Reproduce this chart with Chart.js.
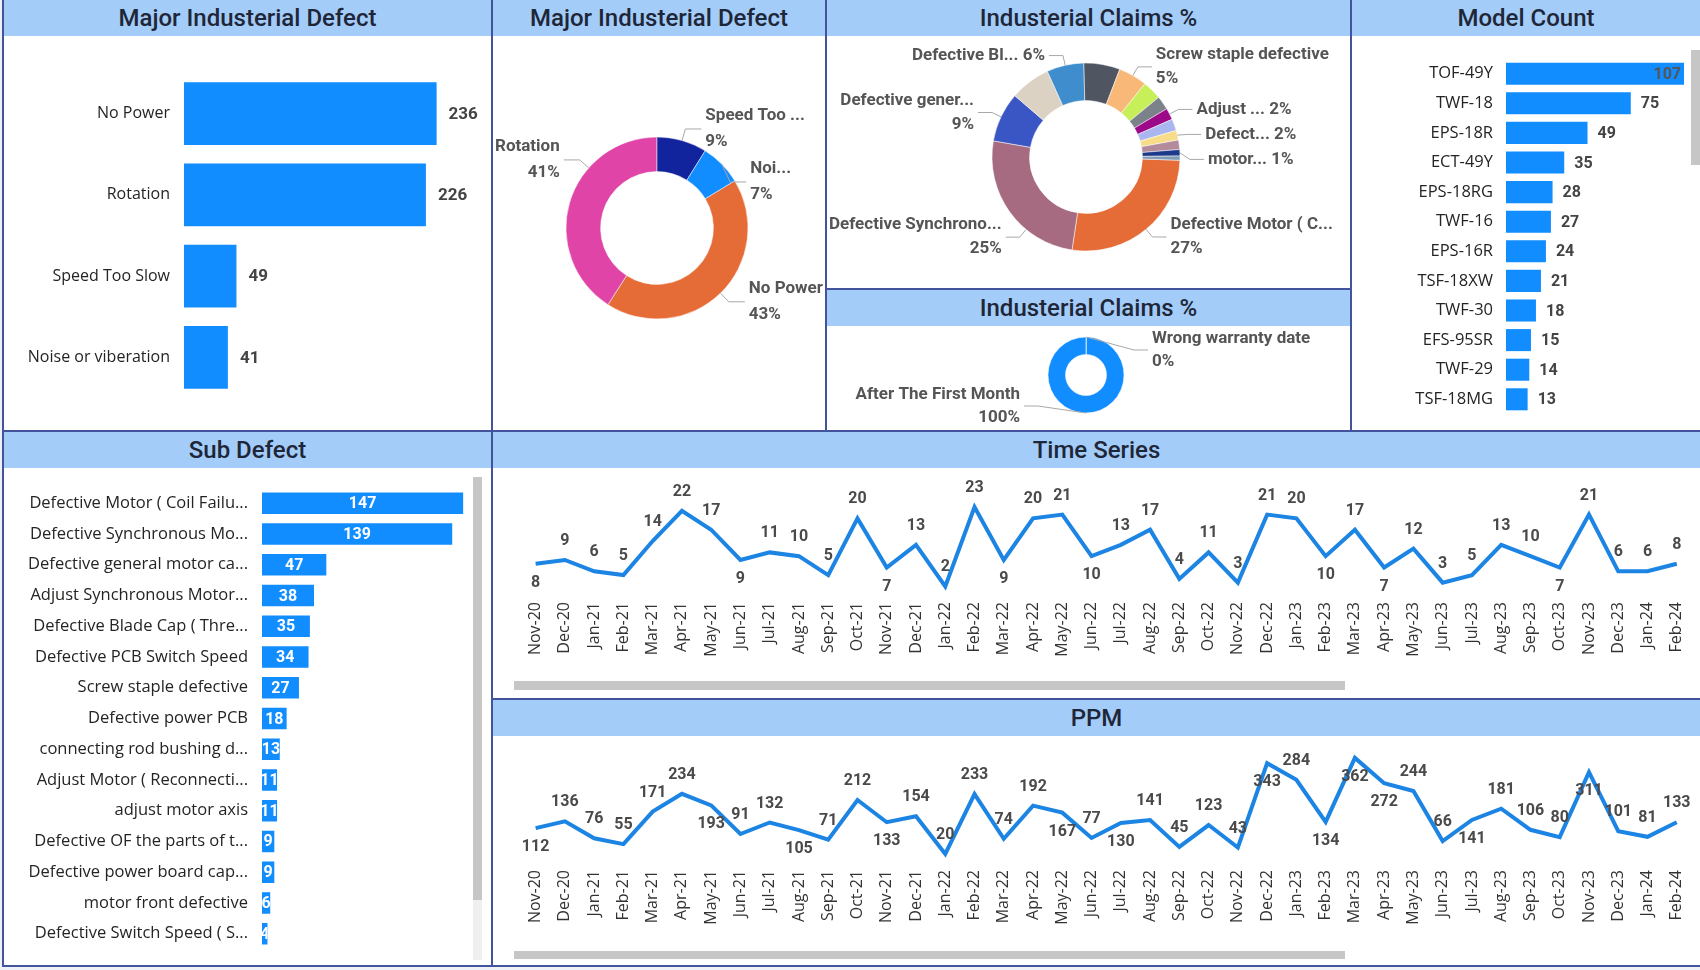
<!DOCTYPE html>
<html>
<head>
<meta charset="utf-8">
<script src="https://cdn.jsdelivr.net/npm/chart.js@4.4.0/dist/chart.umd.min.js"></script>
<style>
  body { margin: 0; width: 1700px; height: 970px; position: relative; overflow: hidden; background: #eef1f7; font-family: 'Open Sans', sans-serif; }
  .panel { position: absolute; box-sizing: border-box; border: 2px solid #44549c; background: #fff; }
  .head { position: absolute; left: 0; right: 0; top: 0; height: 36px; background: #a3cdf8;
          text-align: center; font: 500 24px Roboto, sans-serif; line-height: 37px; color: #1e2638; }
  .box { position: absolute; z-index: 2; }
  .scroll { position: absolute; z-index: 3; background: #c6c6c6; }
</style>
</head>
<body>
<div class="panel" style="left:2px;top:-2px;width:491px;height:434px"><div class="head">Major Industerial Defect</div></div>
<div class="panel" style="left:491px;top:-2px;width:336px;height:434px"><div class="head">Major Industerial Defect</div></div>
<div class="panel" style="left:825px;top:-2px;width:527px;height:292px"><div class="head">Industerial Claims %</div></div>
<div class="panel" style="left:825px;top:288px;width:527px;height:144px"><div class="head">Industerial Claims %</div></div>
<div class="panel" style="left:1350px;top:-2px;width:352px;height:434px"><div class="head">Model Count</div></div>
<div class="panel" style="left:2px;top:430px;width:491px;height:537px"><div class="head">Sub Defect</div></div>
<div class="panel" style="left:491px;top:430px;width:1211px;height:270px"><div class="head">Time Series</div></div>
<div class="panel" style="left:491px;top:698px;width:1211px;height:269px"><div class="head">PPM</div></div>

<div class="box" style="left:4px;top:36px;width:487px;height:394px"><canvas id="major"></canvas></div>
<div class="box" style="left:493px;top:36px;width:332px;height:394px"><canvas id="majorPie"></canvas></div>
<div class="box" style="left:827px;top:36px;width:523px;height:252px"><canvas id="claims"></canvas></div>
<div class="box" style="left:827px;top:326px;width:523px;height:104px"><canvas id="claimType"></canvas></div>
<div class="box" style="left:1352px;top:36px;width:348px;height:401px"><canvas id="models"></canvas></div>
<div class="box" style="left:4px;top:464px;width:487px;height:509px"><canvas id="sub"></canvas></div>
<div class="box" style="left:493px;top:467px;width:1207px;height:215px"><canvas id="series"></canvas></div>
<div class="box" style="left:493px;top:735px;width:1207px;height:220px"><canvas id="ppm"></canvas></div>

<div class="scroll" style="left:473px;top:477px;width:9px;height:483px;background:#efefef"></div>
<div class="scroll" style="left:473px;top:477px;width:9px;height:423px"></div>
<div class="scroll" style="left:1691px;top:50px;width:9px;height:115px"></div>
<div class="scroll" style="left:514px;top:681px;width:831px;height:9px"></div>
<div class="scroll" style="left:514px;top:951px;width:831px;height:8px"></div>

<script>
// data
const majorDefects = ['No Power', 'Rotation', 'Speed Too Slow', 'Noise or viberation'];
const majorCounts = [236, 226, 49, 41];
const majorShort = ['No Power', 'Rotation', 'Speed Too ...', 'Noi...'];

const subDefects = ['Defective Motor ( Coil Failu...', 'Defective Synchronous Mo...', 'Defective general motor ca...',
  'Adjust Synchronous Motor...', 'Defective Blade Cap ( Thre...', 'Defective PCB Switch Speed', 'Screw staple defective',
  'Defective power PCB', 'connecting rod bushing d...', 'Adjust Motor ( Reconnecti...', 'adjust motor axis',
  'Defective OF the parts of t...', 'Defective power board cap...', 'motor front defective', 'Defective Switch Speed ( S...'];
const subCounts = [147, 139, 47, 38, 35, 34, 27, 18, 13, 11, 11, 9, 9, 6, 4];
const subShort = ['Defective Motor ( C...', 'Defective Synchrono...', 'Defective gener...', '', 'Defective Bl...', '',
  'Screw staple defective', '', '', 'Adjust ...', '', 'Defect...', '', 'motor...', ''];

const claimTypes = ['Wrong warranty date', 'After The First Month'];
const claimTypeCounts = [1, 551];

const models = ['TOF-49Y', 'TWF-18', 'EPS-18R', 'ECT-49Y', 'EPS-18RG', 'TWF-16', 'EPS-16R', 'TSF-18XW', 'TWF-30', 'EFS-95SR', 'TWF-29', 'TSF-18MG'];
const modelCounts = [107, 75, 49, 35, 28, 27, 24, 21, 18, 15, 14, 13];

const months = ['Nov-20', 'Dec-20', 'Jan-21', 'Feb-21', 'Mar-21', 'Apr-21', 'May-21', 'Jun-21', 'Jul-21', 'Aug-21',
  'Sep-21', 'Oct-21', 'Nov-21', 'Dec-21', 'Jan-22', 'Feb-22', 'Mar-22', 'Apr-22', 'May-22', 'Jun-22',
  'Jul-22', 'Aug-22', 'Sep-22', 'Oct-22', 'Nov-22', 'Dec-22', 'Jan-23', 'Feb-23', 'Mar-23', 'Apr-23',
  'May-23', 'Jun-23', 'Jul-23', 'Aug-23', 'Sep-23', 'Oct-23', 'Nov-23', 'Dec-23', 'Jan-24', 'Feb-24'];
const monthlyClaims = [8, 9, 6, 5, 14, 22, 17, 9, 11, 10, 5, 20, 7, 13, 2, 23, 9, 20, 21, 10,
  13, 17, 4, 11, 3, 21, 20, 10, 17, 7, 12, 3, 5, 13, 10, 7, 21, 6, 6, 8];
const monthlyPpm = [112, 136, 76, 55, 171, 234, 193, 91, 132, 105, 71, 212, 133, 154, 20, 233, 74, 192, 167, 77,
  130, 141, 45, 123, 43, 343, 284, 134, 362, 272, 244, 66, 141, 181, 106, 80, 311, 101, 81, 133];

const BLUE = '#118dff';

// value labels next to / inside the bars
function barLabels(o) {
    return {
        id: 'barLabels',
        afterDatasetsDraw(chart) {
            const ctx = chart.ctx;
            const vals = chart.data.datasets[0].data;
            chart.getDatasetMeta(0).data.forEach((bar, i) => {
                const t = String(vals[i]);
                ctx.save();
                ctx.font = o.font;
                ctx.textBaseline = 'middle';
                const w = ctx.measureText(t).width;
                if (o.inside) {
                    ctx.beginPath();
                    ctx.rect(bar.base, bar.y - bar.height / 2, bar.x - bar.base, bar.height);
                    ctx.clip();
                    ctx.fillStyle = '#fff';
                    ctx.textAlign = 'center';
                    ctx.fillText(t, (bar.base + bar.x) / 2, bar.y + 1);
                } else if (bar.x + o.gap + w > chart.width - 2) {
                    ctx.fillStyle = '#555';
                    ctx.textAlign = 'right';
                    ctx.fillText(t, bar.x - 3, bar.y + 1);
                } else {
                    ctx.fillStyle = '#444';
                    ctx.textAlign = 'left';
                    ctx.fillText(t, bar.x + o.gap, bar.y + 1);
                }
                ctx.restore();
            });
        }
    };
}

// outside labels with leader lines for the donuts
function sliceLabels(o) {
    return {
        id: 'sliceLabels',
        afterDraw(chart) {
            const ctx = chart.ctx;
            const vals = chart.data.datasets[0].data;
            const total = vals.reduce((a, b) => a + b, 0);
            const items = [];
            ctx.save();
            ctx.font = o.font;
            chart.getDatasetMeta(0).data.forEach((arc, i) => {
                const name = o.texts[i];
                if (!name) return;
                const mid = (arc.startAngle + arc.endAngle) / 2;
                const r = arc.outerRadius, R = r + o.elbow;
                const c = Math.cos(mid), s = Math.sin(mid);
                const pct = Math.round(vals[i] / total * 100) + '%';
                const lines = ctx.measureText(name + ' ' + pct).width > o.wrap ? [name, pct] : [name + ' ' + pct];
                const tw = Math.max(...lines.map(t => ctx.measureText(t).width));
                const right = c >= 0;
                const it = { right, cx: arc.x, ax: arc.x + c * r, ay: arc.y + s * r,
                             ex: arc.x + c * R, y: arc.y + s * R, lines, h: lines.length * o.lineH };
                // slide the label along the ring until the text fits in the canvas
                const maxDx = right ? chart.width - 6 - tw - o.arm - arc.x : arc.x - 6 - tw - o.arm;
                if (Math.abs(c * R) > maxDx && maxDx > 0) {
                    const dy = Math.sqrt(R * R - maxDx * maxDx) * (s < 0 ? -1 : 1);
                    const dir = right ? 1 : -1;
                    it.ex = arc.x + dir * maxDx;
                    it.y = arc.y + dy;
                    it.ax = arc.x + dir * maxDx * r / R;
                    it.ay = arc.y + dy * r / R;
                }
                items.push(it);
            });
            [true, false].forEach(side => {
                const list = items.filter(it => it.right === side).sort((a, b) => a.y - b.y);
                let prev = 0;
                list.forEach(it => { it.y = Math.max(it.y, prev + it.h / 2 + 1); prev = it.y + it.h / 2; });
                let next = chart.height;
                list.slice().reverse().forEach(it => { it.y = Math.min(it.y, next - it.h / 2 - 1); next = it.y - it.h / 2; });
            });
            items.forEach(it => {
                const dir = it.right ? 1 : -1;
                const bx = it.right ? Math.max(it.ex, it.cx + o.minOff) : Math.min(it.ex, it.cx - o.minOff);
                const hx = bx + dir * o.arm;
                ctx.strokeStyle = '#a8a8a8';
                ctx.lineWidth = 1;
                ctx.beginPath();
                ctx.moveTo(it.ax, it.ay);
                ctx.lineTo(bx, it.y);
                ctx.lineTo(hx, it.y);
                ctx.stroke();
                ctx.fillStyle = '#555';
                ctx.textAlign = it.right ? 'left' : 'right';
                ctx.textBaseline = 'middle';
                it.lines.forEach((t, k) => ctx.fillText(t, hx + dir * 4, it.y - it.h / 2 + o.lineH * (k + 0.5)));
            });
            ctx.restore();
        }
    };
}

// number above / below each point of the line charts
function pointLabels(below) {
    return {
        id: 'pointLabels',
        afterDatasetsDraw(chart) {
            const ctx = chart.ctx;
            const vals = chart.data.datasets[0].data;
            ctx.save();
            ctx.font = "bold 16px Roboto";
            ctx.fillStyle = '#4a4a4a';
            ctx.textAlign = 'center';
            ctx.textBaseline = 'middle';
            chart.getDatasetMeta(0).data.forEach((pt, i) => {
                ctx.fillText(vals[i], pt.x, pt.y + (below.includes(i) ? 19 : -19));
            });
            ctx.restore();
        }
    };
}

Chart.defaults.animation = false;
Chart.defaults.events = [];
Chart.defaults.maintainAspectRatio = false;
Chart.defaults.plugins.legend.display = false;
Chart.defaults.plugins.tooltip.enabled = false;

function hbar(id, labels, values, o) {
    new Chart(document.getElementById(id), {
        type: 'bar',
        data: {
            labels: labels,
            datasets: [{
                data: values,
                backgroundColor: BLUE,
                categoryPercentage: 1,
                barPercentage: o.bar
            }]
        },
        options: {
            indexAxis: 'y',
            layout: { padding: o.pad },
            scales: {
                x: { display: false, min: 0, max: o.max },
                y: {
                    grid: { display: false, drawTicks: false },
                    border: { display: false },
                    ticks: { padding: o.tickPad, autoSkip: false, color: '#252423', font: { family: 'Open Sans', size: o.size } },
                    afterFit: s => { s.width = o.axisW; }
                }
            }
        },
        plugins: [barLabels(o)]
    });
}

hbar('major', majorDefects, majorCounts,
    { bar: 0.77, max: 270, axisW: 180, tickPad: 14, gap: 12, size: 16, font: "bold 17px Roboto",
      pad: { top: 37, bottom: 32, right: 18 } });
hbar('sub', subDefects, subCounts,
    { bar: 0.7, max: 152, axisW: 258, tickPad: 14, inside: true, size: 16.5, font: "bold 16px Roboto",
      pad: { top: 17, bottom: 14, right: 21 } });
hbar('models', models, modelCounts,
    { bar: 0.745, max: 110, axisW: 154, tickPad: 13, gap: 10, size: 16.5, font: "bold 16px Roboto",
      pad: { top: 22, bottom: 11, right: 11 } });

function donut(id, labels, values, colors, o) {
    new Chart(document.getElementById(id), {
        type: 'doughnut',
        data: {
            labels: labels,
            datasets: [{ data: values, backgroundColor: colors, borderWidth: 0.5, borderColor: '#fff' }]
        },
        options: {
            radius: o.radius,
            cutout: o.cutout,
            rotation: o.rotation,
            layout: { padding: o.pad }
        },
        plugins: [sliceLabels(o.labels)]
    });
}

donut('majorPie', majorDefects, majorCounts, ['#e66c37', '#e044a7', '#12239e', '#118dff'], {
    radius: 91, cutout: '62%', rotation: 58.7, pad: { right: 4, bottom: 10 },
    labels: { texts: majorShort, font: "bold 17px Roboto", wrap: 0, lineH: 26, elbow: 12, arm: 16, minOff: 0 }
});
donut('claims', subDefects, subCounts, ['#e66c37', '#a66b80', '#3a56c4', '#dcd2c4', '#3f8dcc', '#4f5662', '#f8b878',
    '#c6ef5a', '#7c8289', '#9c0a8a', '#aab6ef', '#f7dc8a', '#b38b9c', '#1e3a8a', '#7f9bb5'], {
    radius: 94, cutout: '60%', rotation: 92, pad: { right: 5, bottom: 10 },
    labels: { texts: subShort, font: "bold 17px Roboto", wrap: 150, lineH: 24, elbow: 10, arm: 14, minOff: 0 }
});
donut('claimType', claimTypes, claimTypeCounts, [BLUE, BLUE], {
    radius: 38, cutout: '54%', rotation: 0, pad: { right: 5, bottom: 6 },
    labels: { texts: claimTypes, font: "bold 17px Roboto", wrap: 0, lineH: 23, elbow: 8, arm: 14, minOff: 48 }
});

function lineChart(id, values, o) {
    new Chart(document.getElementById(id), {
        type: 'line',
        data: {
            labels: months,
            datasets: [{
                data: values,
                borderColor: '#1c84e3',
                borderWidth: 4,
                pointRadius: 0,
                tension: 0,
                clip: false
            }]
        },
        options: {
            layout: { padding: o.pad },
            scales: {
                x: {
                    offset: true,
                    grid: { display: false, drawTicks: false },
                    border: { display: false },
                    ticks: { minRotation: 90, maxRotation: 90, autoSkip: false, padding: 4, color: '#333',
                             font: { family: 'Open Sans', size: 16 } },
                    afterFit: s => { s.height = 64; }
                },
                y: { display: false, min: o.min, max: o.max }
            }
        },
        plugins: [pointLabels(o.below)]
    });
}

// label goes under the point at strict local minima (Power BI placement)
function localMinima(v, floor) {
    return v.map((x, i) => {
        const l = i === 0 ? Infinity : v[i - 1];
        const r = i === v.length - 1 ? Infinity : v[i + 1];
        return x < l && x < r && x >= floor ? i : -1;
    }).filter(i => i >= 0);
}

lineChart('series', monthlyClaims, {
    min: -1.06, max: 28.3, pad: { left: 28, right: 3, top: 20, bottom: 20 },
    below: localMinima(monthlyClaims, 7)
});
lineChart('ppm', monthlyPpm, {
    min: -22.8, max: 390, pad: { left: 28, right: 3, top: 15, bottom: 25 },
    below: [0, 6, 9, 12, 18, 20, 25, 27, 28, 29, 32, 36]
});
</script>
</body>
</html>
